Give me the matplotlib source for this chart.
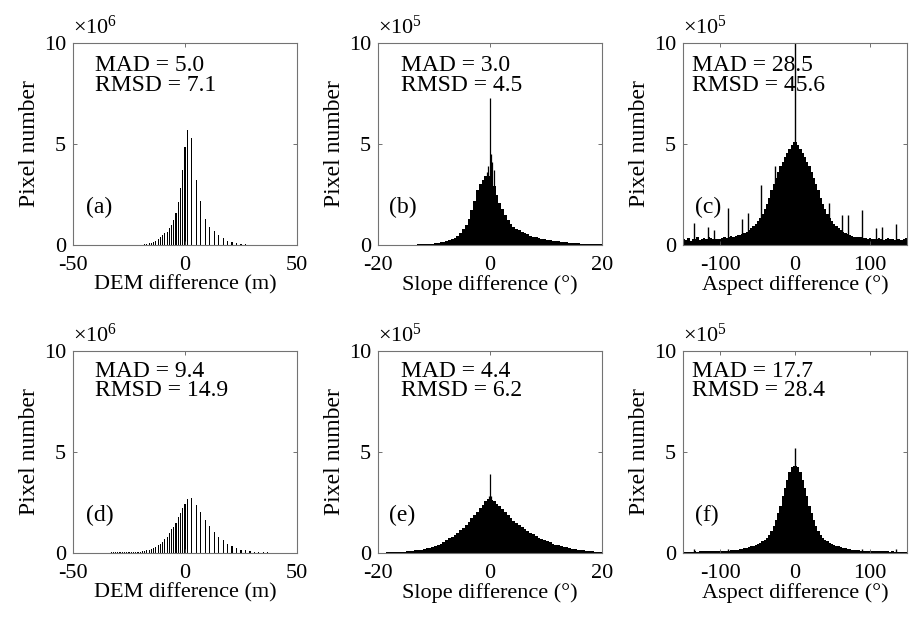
import numpy as np
import matplotlib
matplotlib.use("Agg")
import matplotlib.pyplot as plt

plt.rcParams['font.family'] = ['Liberation Serif', 'DejaVu Serif']
plt.rcParams['mathtext.fontset'] = 'custom'
plt.rcParams['mathtext.rm'] = 'Liberation Serif'
plt.rcParams['mathtext.it'] = 'Liberation Serif:italic'
plt.rcParams['axes.unicode_minus'] = False

# ---------------- data ----------------
# (a) DEM difference, x1e6
a_pos = [-20, -19, -18, -17, -16, -15, -14, -13, -12, -11, -10, -9, -8, -7, -6, -5, -4, -3, -2, -1, 0,
         1, 3, 5, 7, 9, 11, 13, 15, 17, 19, 21, 23, 25, 27]
a_cnt = [0.01, 0.02, 0.03, 0.07, 0.08, 0.12, 0.15, 0.2, 0.28, 0.38, 0.48, 0.58, 0.66, 0.83, 1.0, 1.24, 1.57, 2.15, 2.8, 3.7, 4.87,
         5.69, 5.28, 3.2, 2.2, 1.3, 0.9, 0.7, 0.5, 0.33, 0.2, 0.13, 0.08, 0.05, 0.03]

# (d) DEM difference, x1e6
d_pos = [-37, -36, -35, -34, -33, -32, -31, -30, -29, -28, -27, -26, -25, -24, -23, -22, -21, -20, -19, -18,
         -17, -16, -15, -14, -13, -12, -11, -10, -9, -8, -7, -6, -5, -4, -3, -2, -1, 0, 1,
         3, 5, 7, 9, 11, 13, 15, 17, 19, 21, 23, 25, 27, 29, 31, 33, 35, 37, 39]
d_cnt = [0.02, 0.02, 0.02, 0.02, 0.03, 0.03, 0.03, 0.03, 0.04, 0.04, 0.04, 0.05, 0.05, 0.05, 0.06, 0.06, 0.07, 0.07, 0.08, 0.1,
         0.13, 0.17, 0.19, 0.24, 0.31, 0.38, 0.46, 0.55, 0.68, 0.8, 0.97, 1.18, 1.3, 1.5, 1.8, 2.0, 2.22, 2.45, 2.65,
         2.7, 2.36, 2.02, 1.63, 1.33, 1.05, 0.8, 0.62, 0.47, 0.33, 0.23, 0.17, 0.13, 0.1, 0.07, 0.05, 0.04, 0.03, 0.02]

# (b) slope difference, x1e5, 0.5-degree bins from -20 to 20
b_start, b_width = -20.0, 0.5
b_cnt = [0.01, 0.01, 0.01, 0.01, 0.01, 0.01, 0.01, 0.01, 0.01, 0.01,
         0.02, 0.02, 0.02, 0.02, 0.03, 0.03, 0.04, 0.05, 0.06, 0.07,
         0.09, 0.11, 0.14, 0.17, 0.2, 0.24, 0.28, 0.35, 0.45, 0.6,
         0.78, 1.0, 1.3, 1.75, 2.2, 2.7, 3.0, 3.2, 3.4, 3.4,
         3.2, 2.9, 2.5, 2.1, 1.8, 1.5, 1.25, 1.05, 0.9, 0.8,
         0.72, 0.65, 0.58, 0.52, 0.47, 0.42, 0.38, 0.35, 0.32, 0.29,
         0.26, 0.24, 0.22, 0.2, 0.18, 0.16, 0.14, 0.13, 0.11, 0.1,
         0.09, 0.08, 0.07, 0.06, 0.05, 0.05, 0.04, 0.04, 0.03, 0.03]
b_spike_pos = [-0.6, -0.3, 0.0, 0.2, 0.4, 0.7]
b_spike_cnt = [3.6, 3.9, 7.3, 4.5, 4.1, 3.7]

# (e) slope difference, x1e5, 0.5-degree bins from -20 to 20
e_start, e_width = -20.0, 0.5
e_cnt = [0.02, 0.02, 0.02, 0.03, 0.03, 0.04, 0.04, 0.05, 0.06, 0.07,
         0.08, 0.1, 0.11, 0.13, 0.15, 0.17, 0.2, 0.23, 0.26, 0.3,
         0.35, 0.4, 0.47, 0.55, 0.63, 0.72, 0.8, 0.9, 1.0, 1.12,
         1.25, 1.4, 1.55, 1.72, 1.88, 2.05, 2.22, 2.4, 2.55, 2.65,
         2.62, 2.55, 2.45, 2.32, 2.2, 2.05, 1.9, 1.75, 1.6, 1.48,
         1.38, 1.28, 1.18, 1.09, 1.0, 0.92, 0.83, 0.76, 0.7, 0.64,
         0.58, 0.52, 0.47, 0.42, 0.38, 0.34, 0.31, 0.28, 0.25, 0.22,
         0.2, 0.17, 0.15, 0.13, 0.12, 0.1, 0.09, 0.07, 0.06, 0.05]
e_spike_pos = [-0.2, 0.0, 0.2]
e_spike_cnt = [2.8, 3.9, 2.8]

# (c) aspect difference, x1e5, 3-degree bins from -150 to 150
c_start, c_width = -150.0, 3.0
c_cnt = [0.3, 0.25, 0.35, 0.2, 0.3, 0.28, 0.4, 0.25, 0.3, 0.35,
         0.3, 0.4, 0.35, 0.3, 0.32, 0.28, 0.3, 0.35, 0.4, 0.35,
         0.38, 0.45, 0.42, 0.45, 0.48, 0.5, 0.55, 0.6, 0.66, 0.74,
         0.82, 0.92, 1.05, 1.2, 1.35, 1.55, 1.8, 2.05, 2.35, 2.7,
         3.0, 3.3, 3.6, 3.9, 4.1, 4.35, 4.55, 4.75, 4.95, 5.1,
         5.1, 4.95, 4.75, 4.55, 4.35, 4.1, 3.9, 3.6, 3.3, 3.0,
         2.7, 2.35, 2.05, 1.8, 1.55, 1.35, 1.2, 1.05, 0.92, 0.82,
         0.72, 0.65, 0.58, 0.52, 0.48, 0.45, 0.42, 0.4, 0.42, 0.38,
         0.35, 0.36, 0.3, 0.33, 0.3, 0.28, 0.3, 0.35, 0.3, 0.25,
         0.3, 0.35, 0.28, 0.3, 0.25, 0.3, 0.28, 0.25, 0.3, 0.35]
c_spike_pos = [-135, -116.6, -108.4, -90, -71.6, -63.4, -45, -26.6, 0, 26.6, 45, 63.4, 71.6, 90, 108.4, 116.6, 135]
c_spike_cnt = [1.1, 0.9, 0.75, 1.85, 1.3, 1.6, 2.95, 3.9, 10.0, 3.0, 2.1, 1.5, 1.5, 1.75, 0.85, 0.9, 1.05]

# (f) aspect difference, x1e5, 3-degree bins from -150 to 150
f_start, f_width = -150.0, 3.0
f_cnt = [0.06, 0.07, 0.06, 0.07, 0.07, 0.08, 0.07, 0.08, 0.08, 0.09,
         0.08, 0.09, 0.09, 0.1, 0.1, 0.1, 0.11, 0.11, 0.11, 0.12,
         0.12, 0.13, 0.14, 0.15, 0.16, 0.18, 0.2, 0.23, 0.26, 0.29,
         0.33, 0.37, 0.42, 0.46, 0.5, 0.57, 0.65, 0.75, 0.9, 1.1,
         1.35, 1.65, 2.0, 2.35, 2.8, 3.2, 3.6, 4.0, 4.25, 4.3,
         4.3, 4.25, 4.0, 3.6, 3.2, 2.8, 2.35, 2.0, 1.65, 1.35,
         1.1, 0.9, 0.75, 0.65, 0.57, 0.5, 0.46, 0.42, 0.37, 0.33,
         0.29, 0.26, 0.23, 0.2, 0.18, 0.16, 0.15, 0.14, 0.13, 0.12,
         0.12, 0.11, 0.11, 0.1, 0.1, 0.1, 0.09, 0.09, 0.08, 0.09,
         0.08, 0.08, 0.07, 0.08, 0.07, 0.07, 0.06, 0.07, 0.06, 0.06]
f_spike_pos = [-135, -90, -45, 0, 45, 90, 135]
f_spike_cnt = [0.2, 0.22, 0.5, 5.2, 0.5, 0.22, 0.2]

xlabels = ['DEM difference (m)', 'Slope difference (°)', 'Aspect difference (°)']
ylabel = 'Pixel number'
xlims = [(-50, 50), (-20, 20), (-150, 150)]
xticks = [[-50, 0, 50], [-20, 0, 20], [-100, 0, 100]]
yticks = [0, 5, 10]
exponents = [6, 5, 5]
mad = [['5.0', '3.0', '28.5'], ['9.4', '4.4', '17.7']]
rmsd = [['7.1', '4.5', '45.6'], ['14.9', '6.2', '28.4']]
letters = [['(a)', '(b)', '(c)'], ['(d)', '(e)', '(f)']]

# ---------------- figure ----------------
W, H = 912, 619
fig = plt.figure(figsize=(W / 100, H / 100), dpi=100)
lefts = [73, 378, 683]
tops = [43, 351]
aw, ah = 224, 202
txt_x = [0.098, 0.101, 0.039]

panels = [[None] * 3 for _ in range(2)]
for r in range(2):
    for c in range(3):
        ax = fig.add_axes([lefts[c] / W, 1 - (tops[r] + ah) / H, aw / W, ah / H])
        panels[r][c] = ax


def filled(ax, start, width, counts):
    edges = start + width * np.arange(len(counts) + 1)
    ax.stairs(counts, edges, fill=True, color='k', linewidth=0)


# row 1
panels[0][0].bar(a_pos, a_cnt, width=0.5, color='k', linewidth=0)
filled(panels[0][1], b_start, b_width, b_cnt)
panels[0][1].vlines(b_spike_pos, 0, b_spike_cnt, color='k', linewidth=0.9)
filled(panels[0][2], c_start, c_width, c_cnt)
panels[0][2].vlines(c_spike_pos, 0, c_spike_cnt, color='k', linewidth=1.0)
# row 2
panels[1][0].bar(d_pos, d_cnt, width=0.5, color='k', linewidth=0)
filled(panels[1][1], e_start, e_width, e_cnt)
panels[1][1].vlines(e_spike_pos, 0, e_spike_cnt, color='k', linewidth=0.9)
filled(panels[1][2], f_start, f_width, f_cnt)
panels[1][2].vlines(f_spike_pos, 0, f_spike_cnt, color='k', linewidth=1.0)

for r in range(2):
    for c in range(3):
        ax = panels[r][c]
        ax.set_xlim(*xlims[c])
        ax.set_ylim(0, 10)
        ax.set_xticks(xticks[c])
        ax.set_yticks(yticks)
        ax.tick_params(direction='in', length=3, width=0.6, color='0.35',
                       top=True, right=True, labelsize=16)
        ax.tick_params(axis='x', pad=8)
        ax.tick_params(axis='y', pad=5)
        for s in ax.spines.values():
            s.set_color('0.45')
            s.set_linewidth(0.8)
        ax.set_xlabel(xlabels[c], fontsize=16, labelpad=0)
        ax.set_ylabel(ylabel, fontsize=17, labelpad=3)
        ax.text(0.0, 1.045, r'$\times10^{%d}$' % exponents[c], transform=ax.transAxes,
                fontsize=16, ha='left', va='baseline')
        ybase = 0.853 if r == 0 else 0.864
        ax.text(txt_x[c], ybase - 0.089, 'MAD = ' + mad[r][c] + '\nRMSD = ' + rmsd[r][c],
                transform=ax.transAxes, fontsize=17, ha='left', va='baseline',
                linespacing=0.9)
        lx = [0.058, 0.05, 0.054][c]
        ax.text(lx, 0.157, letters[r][c], transform=ax.transAxes,
                fontsize=17, ha='left', va='baseline')

fig.savefig('out.png', dpi=100)
